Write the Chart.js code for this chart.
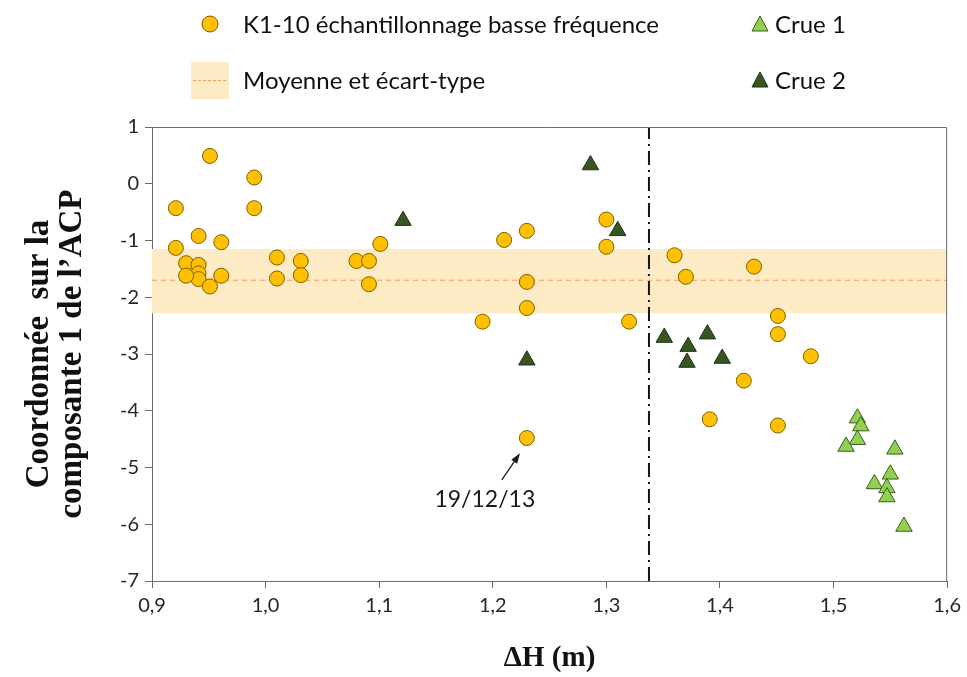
<!DOCTYPE html>
<html lang="fr">
<head>
<meta charset="utf-8">
<title>Composante 1 de l'ACP en fonction de ΔH</title>
<script src="https://cdn.jsdelivr.net/npm/chart.js@4.4.1/dist/chart.umd.min.js"></script>
<style>
  body { margin: 0; background: #fff; }
  #wrap { position: relative; width: 967px; height: 677px; }
  .txt { position: absolute; height: 30px; line-height: 30px; font: 24px Lato, sans-serif; color: #111; white-space: nowrap; }
  .mk { position: absolute; }
</style>
</head>
<body>
<div id="wrap">
  <canvas id="acpChart"></canvas>

  <!-- légende -->
  <svg class="mk" style="left:201px;top:15px" width="18" height="18"><circle cx="9" cy="9" r="8" fill="#FFC000" stroke="#7F6000" stroke-width="1"/></svg>
  <div class="txt" style="left:243px;top:9px">K1-10 échantillonnage basse fréquence</div>
  <svg class="mk" style="left:751px;top:15px" width="18" height="18"><polygon points="9,1 17,16 1,16" fill="#92D050" stroke="#3B5E1F" stroke-width="1"/></svg>
  <div class="txt" style="left:775px;top:9px">Crue 1</div>

  <svg class="mk" style="left:191px;top:62px" width="38" height="37"><rect x="0" y="0" width="38" height="37" fill="#FCEBC4"/><line x1="2" y1="18.5" x2="36" y2="18.5" stroke="#EE9A68" stroke-width="1" stroke-dasharray="3,2"/></svg>
  <div class="txt" style="left:243px;top:65px">Moyenne et écart-type</div>
  <svg class="mk" style="left:751px;top:71px" width="18" height="18"><polygon points="9,1 17,16 1,16" fill="#375623" stroke="#1F3312" stroke-width="1"/></svg>
  <div class="txt" style="left:775px;top:65px">Crue 2</div>
</div>

<script>
// K1-10 échantillonnage basse fréquence
const k1X = [0.951, 0.990, 0.921, 0.990, 0.941, 0.961, 0.921, 0.930, 0.941, 0.941,
             0.941, 0.930, 0.961, 0.951, 1.010, 1.010, 1.031, 1.031, 1.080, 1.091,
             1.091, 1.101, 1.191, 1.210, 1.230, 1.230, 1.230, 1.230, 1.300, 1.300,
             1.320, 1.360, 1.370, 1.430, 1.451, 1.451, 1.480, 1.421, 1.391, 1.451];
const k1Y = [0.49, 0.11, -0.43, -0.43, -0.92, -1.03, -1.13, -1.40, -1.43, -1.58,
             -1.68, -1.62, -1.62, -1.81, -1.30, -1.67, -1.36, -1.61, -1.36, -1.36,
             -1.77, -1.06, -2.43, -0.99, -0.83, -1.73, -2.19, -4.48, -0.63, -1.11,
             -2.43, -1.26, -1.64, -1.46, -2.33, -2.65, -3.04, -3.47, -4.15, -4.26];

// Crue 1
const crue1X = [1.521, 1.524, 1.521, 1.511, 1.554, 1.550, 1.536, 1.547, 1.547, 1.562];
const crue1Y = [-4.13, -4.27, -4.51, -4.63, -4.68, -5.12, -5.29, -5.36, -5.52, -6.04];

// Crue 2
const crue2X = [1.121, 1.286, 1.310, 1.230, 1.351, 1.389, 1.372, 1.371, 1.402];
const crue2Y = [-0.65, 0.33, -0.83, -3.11, -2.71, -2.65, -2.87, -3.15, -3.08];

// Moyenne et écart-type
const moyenne = -1.70;
const ecartHaut = -1.15;
const ecartBas = -2.28;

// Seuil vertical (trait mixte)
const seuilX = 1.3375;

// Axes
const xMin = 0.9, xMax = 1.6, xPas = 0.1;
const yMin = -7, yMax = 1, yPas = 1;

// Annotation
const note = { x: 1.23, y: -4.48, texte: '19/12/13' };

const pts = (xs, ys) => xs.map((x, i) => ({ x: x, y: ys[i] }));
const horiz = (y) => [{ x: xMin, y: y }, { x: xMax, y: y }];

const axeCouleur = '#6b6b6b';

// cadre haut / droite + annotation fléchée
const cadrePlugin = {
    id: 'cadre',
    afterDraw(chart) {
        const { ctx, chartArea: a, scales } = chart;
        ctx.save();
        ctx.strokeStyle = axeCouleur;
        ctx.lineWidth = 1;
        ctx.beginPath();
        ctx.moveTo(a.left, a.top + 0.5);
        ctx.lineTo(a.right - 0.5, a.top + 0.5);
        ctx.lineTo(a.right - 0.5, a.bottom);
        ctx.stroke();

        const px = scales.x.getPixelForValue(note.x);
        const py = scales.y.getPixelForValue(note.y);
        // flèche
        const x0 = px - 25, y0 = py + 42, x1 = px - 8, y1 = py + 17;
        ctx.strokeStyle = '#1a1a1a';
        ctx.fillStyle = '#1a1a1a';
        ctx.lineWidth = 1.3;
        ctx.beginPath();
        ctx.moveTo(x0, y0);
        ctx.lineTo(x1, y1);
        ctx.stroke();
        const ang = Math.atan2(y1 - y0, x1 - x0);
        ctx.beginPath();
        ctx.moveTo(x1 + 2 * Math.cos(ang), y1 + 2 * Math.sin(ang));
        ctx.lineTo(x1 - 9 * Math.cos(ang - 0.4), y1 - 9 * Math.sin(ang - 0.4));
        ctx.lineTo(x1 - 9 * Math.cos(ang + 0.4), y1 - 9 * Math.sin(ang + 0.4));
        ctx.closePath();
        ctx.fill();
        // texte
        ctx.font = '23px Lato, sans-serif';
        ctx.textAlign = 'center';
        ctx.textBaseline = 'middle';
        ctx.fillText(note.texte, px - 42, py + 62);
        ctx.restore();
    }
};

function renderChart() {
    const ctx = document.getElementById('acpChart').getContext('2d');

    new Chart(ctx, {
        type: 'scatter',
        data: {
            datasets: [
                {
                    label: 'Crue 1',
                    data: pts(crue1X, crue1Y),
                    pointStyle: 'triangle',
                    pointRadius: 9.5,
                    backgroundColor: '#92D050',
                    borderColor: '#3B5E1F',
                    borderWidth: 1,
                    order: 0
                },
                {
                    label: 'Crue 2',
                    data: pts(crue2X, crue2Y),
                    pointStyle: 'triangle',
                    pointRadius: 9.5,
                    backgroundColor: '#375623',
                    borderColor: '#1F3312',
                    borderWidth: 1,
                    order: 0
                },
                {
                    label: 'K1-10 échantillonnage basse fréquence',
                    data: pts(k1X, k1Y),
                    pointStyle: 'circle',
                    pointRadius: 7.5,
                    backgroundColor: '#FFC000',
                    borderColor: '#7F6000',
                    borderWidth: 1,
                    order: 1
                },
                {
                    label: 'Seuil',
                    data: [{ x: seuilX, y: yMin }, { x: seuilX, y: yMax }],
                    showLine: true,
                    borderColor: '#111',
                    borderWidth: 2,
                    borderDash: [14, 5, 2, 5],
                    pointRadius: 0,
                    order: 2
                },
                {
                    label: 'Moyenne',
                    data: horiz(moyenne),
                    showLine: true,
                    borderColor: '#EE9A68',
                    borderWidth: 1.2,
                    borderDash: [5, 4],
                    pointRadius: 0,
                    order: 3
                },
                {
                    label: 'Écart-type haut',
                    data: horiz(ecartHaut),
                    showLine: true,
                    borderWidth: 0,
                    borderColor: 'rgba(0,0,0,0)',
                    backgroundColor: '#FCEBC4',
                    fill: '+1',
                    pointRadius: 0,
                    order: 4
                },
                {
                    label: 'Écart-type bas',
                    data: horiz(ecartBas),
                    showLine: true,
                    borderWidth: 0,
                    borderColor: 'rgba(0,0,0,0)',
                    pointRadius: 0,
                    order: 4
                }
            ]
        },
        options: {
            responsive: true,
            maintainAspectRatio: false,
            animation: false,
            layout: {
                padding: { top: 127, right: 17, bottom: 0, left: 0 }
            },
            plugins: {
                legend: { display: false },
                tooltip: { enabled: false }
            },
            scales: {
                x: {
                    type: 'linear',
                    min: xMin,
                    max: xMax,
                    afterFit: (s) => { s.height = 96; },
                    border: { color: axeCouleur, width: 1 },
                    grid: { drawOnChartArea: false, tickLength: 7, color: axeCouleur },
                    ticks: {
                        stepSize: xPas,
                        color: '#262626',
                        padding: 6,
                        font: { family: 'Lato, sans-serif', size: 20 },
                        callback: (v) => v.toFixed(1).replace('.', ',')
                    },
                    title: {
                        display: true,
                        text: 'ΔH (m)',
                        color: '#111',
                        padding: { top: 0, bottom: 1 },
                        font: { family: '"Liberation Serif", serif', size: 29, weight: 'bold' }
                    }
                },
                y: {
                    min: yMin,
                    max: yMax,
                    afterFit: (s) => { s.width = 152; },
                    border: { color: axeCouleur, width: 1 },
                    grid: { drawOnChartArea: false, tickLength: 7, color: axeCouleur },
                    ticks: {
                        stepSize: yPas,
                        color: '#262626',
                        padding: 6,
                        font: { family: 'Lato, sans-serif', size: 20 }
                    },
                    title: {
                        display: true,
                        text: ['Coordonnée  sur la', 'composante 1 de l’ACP'],
                        color: '#111',
                        padding: { top: 23, bottom: 0 },
                        font: { family: '"Liberation Serif", serif', size: 33, weight: 'bold', lineHeight: 1.0 }
                    }
                }
            }
        },
        plugins: [cadrePlugin]
    });
}

renderChart();
</script>
</body>
</html>
